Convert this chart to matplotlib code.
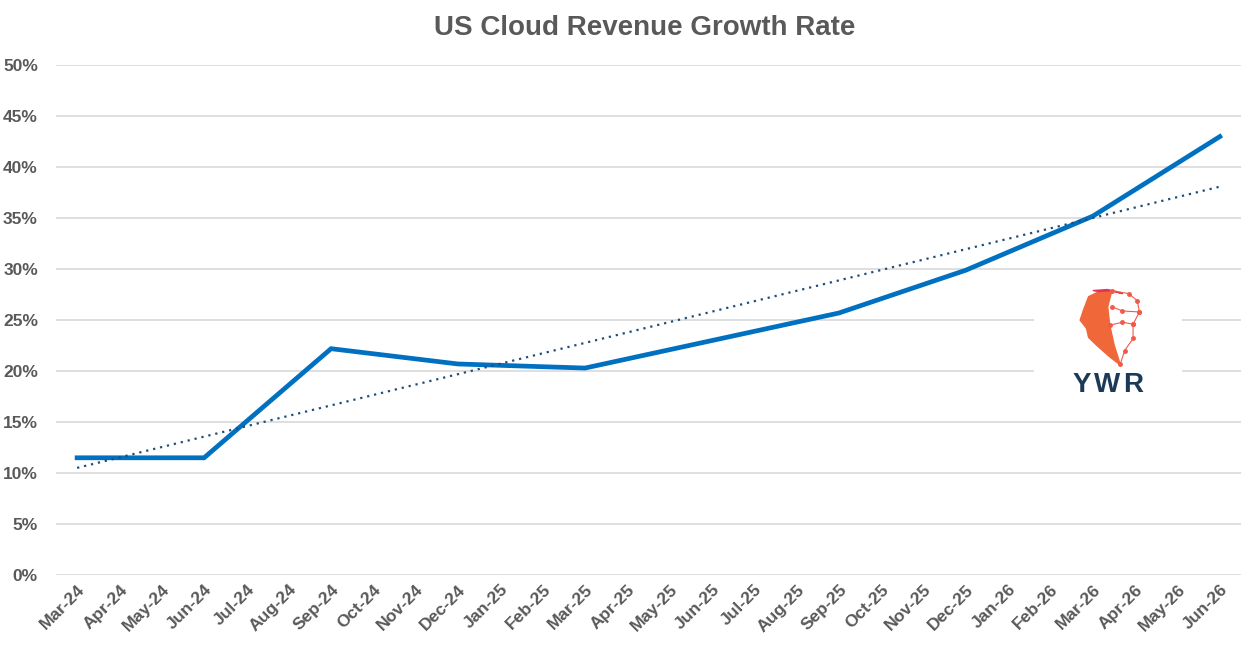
import matplotlib
matplotlib.use("Agg")
import matplotlib.pyplot as plt
from matplotlib.patches import Rectangle
import numpy as np

plt.rcParams['font.family'] = ['Liberation Sans', 'DejaVu Sans']

months = ['Mar-24', 'Apr-24', 'May-24', 'Jun-24', 'Jul-24', 'Aug-24', 'Sep-24',
          'Oct-24', 'Nov-24', 'Dec-24', 'Jan-25', 'Feb-25', 'Mar-25', 'Apr-25',
          'May-25', 'Jun-25', 'Jul-25', 'Aug-25', 'Sep-25', 'Oct-25', 'Nov-25',
          'Dec-25', 'Jan-26', 'Feb-26', 'Mar-26', 'Apr-26', 'May-26', 'Jun-26']
# quarterly points (month index into months)
qtr_idx = [0, 3, 6, 9, 12, 15, 18, 21, 24, 27]
growth = [11.5, 11.5, 22.2, 20.7, 20.3, 23.0, 25.7, 29.9, 35.2, 43.0]

grey = '#595959'

fig = plt.figure(figsize=(12.52, 6.52), dpi=100)
ax = fig.add_axes([0.0447, 0.118, 0.9465, 0.782])

ax.set_xlim(-0.5, len(months) - 0.5)
ax.set_ylim(0, 50)
ax.set_yticks(np.arange(0, 51, 5))
ax.set_yticklabels([f'{v}%' for v in range(0, 51, 5)])
ax.set_xticks(range(len(months)))
ax.set_xticklabels(months, rotation=45, ha='right', rotation_mode='anchor')
ax.grid(axis='y', color='#d9d9d9', linewidth=1.2)
ax.set_axisbelow(True)
for s in ax.spines.values():
    s.set_visible(False)
ax.tick_params(length=0, labelsize=12.5, labelcolor=grey)
for lab in ax.get_xticklabels() + ax.get_yticklabels():
    lab.set_fontweight('bold')
ax.tick_params(axis='y', pad=13)
ax.tick_params(axis='x', pad=5)

# main series
ax.plot(qtr_idx, growth, color='#0070C0', linewidth=3.4, solid_joinstyle='miter', zorder=3)

# linear trendline over the same points
k, b = np.polyfit(qtr_idx, growth, 1)
tx = np.array([qtr_idx[0], qtr_idx[-1]])
ax.plot(tx, k * tx + b, color='#1F4E79', linewidth=1.6, linestyle=(0, (1, 2.2)), zorder=4)

# logo box
ax.add_patch(Rectangle((22.6, 17.0), 3.5, 12.0, facecolor='white', edgecolor='none', zorder=5))
for lx, letter in zip([23.74, 24.33, 24.96], 'YWR'):
    ax.text(lx, 18.6, letter, ha='center', va='center', fontsize=20, fontweight='bold',
            color='#1c3a57', zorder=6)
# rough head emblem
face_x = [24.15, 23.9, 23.78, 23.7, 23.85, 23.9, 24.1, 24.4, 24.65, 24.5, 24.4, 24.35, 24.45]
face_y = [27.8, 27.3, 26.0, 25.0, 24.2, 23.3, 22.5, 21.4, 20.6, 22.6, 24.5, 26.3, 27.9]
ax.fill(face_x, face_y, color='#f0683a', zorder=6)
ax.fill([24.15, 24.45, 24.7, 24.35, 24.0], [27.8, 27.9, 27.6, 28.0, 27.9], color='#e8315a', zorder=6)
net_x = [24.45, 24.85, 25.05, 25.1, 24.95, 24.95, 24.75, 24.65]
net_y = [27.9, 27.6, 26.9, 25.8, 24.6, 23.2, 22.0, 20.7]
ax.plot(net_x, net_y, color='#f05a4a', linewidth=0.8, marker='o', markersize=2.5, zorder=6)
ax.plot([24.45, 24.7, 25.1], [26.3, 25.9, 25.8], color='#f05a4a', linewidth=0.8,
        marker='o', markersize=2.5, zorder=6)
ax.plot([24.4, 24.7, 24.95], [24.5, 24.8, 24.6], color='#f05a4a', linewidth=0.8,
        marker='o', markersize=2.5, zorder=6)

fig.text(0.515, 0.957, 'US Cloud Revenue Growth Rate', ha='center', va='center',
         fontsize=20, fontweight='bold', color=grey)

fig.savefig('out.png', dpi=100)
